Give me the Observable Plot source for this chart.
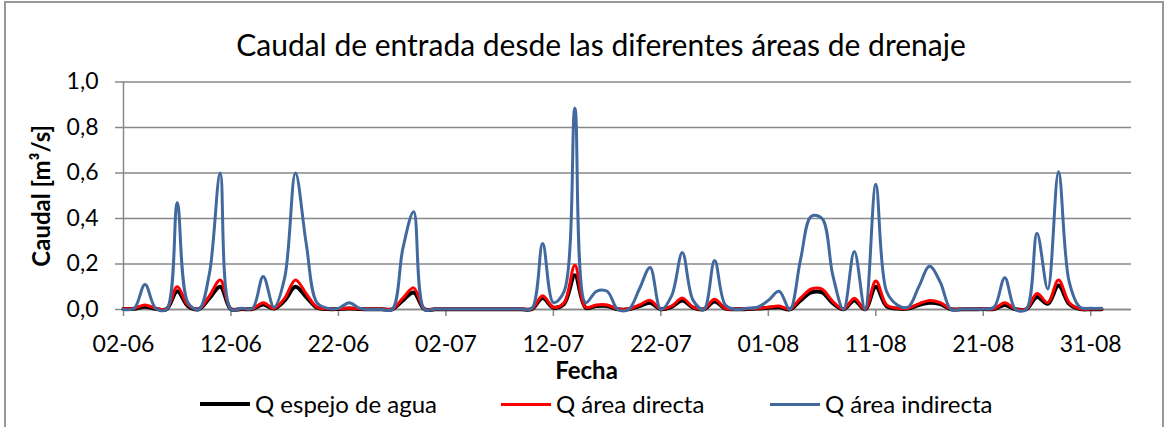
<!DOCTYPE html>
<html>
<head>
<meta charset="utf-8">
<script src="https://cdn.jsdelivr.net/npm/d3@7"></script>
<script src="https://cdn.jsdelivr.net/npm/@observablehq/plot@0.6"></script>
<style>
  html, body { margin: 0; padding: 0; background: #fff; }
  #wrap { position: relative; width: 1169px; height: 427px; overflow: hidden; font-family: Lato, "Open Sans", sans-serif; }
  #border { position: absolute; left: 4px; top: 1px; width: 1160px; height: 440px; border: 2px solid #999; box-sizing: border-box; }
  #title { position: absolute; left: 0; top: 29px; width: 1202px; text-align: center; font-size: 30px; line-height: 30px; color: #000; }
  .leg { position: absolute; top: 392px; height: 24px; display: flex; align-items: center; font-size: 24px; line-height: 24px; color: #000; white-space: nowrap; }
  .sw { display: inline-block; width: 50px; margin-right: 5px; }
  #chart { position: absolute; left: 0; top: 0; }
</style>
</head>
<body>
<div id="wrap">
  <div id="border"></div>
  <div id="chart"></div>
  <div id="title"></div>
</div>
<script>
// ---- data ----
const startDate = "2013-06-02"; // first day of the daily series
const seriesNames = ["Q espejo de agua", "Q área directa", "Q área indirecta"];
const seriesColors = ["#000000", "#ff0000", "#41699d"];
const seriesWidths = [4, 3, 3];

const qEspejo = [0.002, 0.003, 0.012, 0.003, 0.001, 0.08, 0.015, 0.001, 0.05, 0.10,
 0.001, 0.002, 0.002, 0.022, 0.004, 0.04, 0.10, 0.055, 0.008, 0.002,
 0.002, 0.004, 0.002, 0.001, 0.001, 0.001, 0.04, 0.075, 0.001, 0.001,
 0.001, 0.001, 0.001, 0.001, 0.001, 0.001, 0.001, 0.001, 0.002, 0.05,
 0.008, 0.025, 0.15, 0.008, 0.015, 0.015, 0.001, 0.001, 0.015, 0.03,
 0.001, 0.012, 0.04, 0.008, 0.001, 0.035, 0.004, 0.001, 0.002, 0.004,
 0.008, 0.01, 0.001, 0.04, 0.075, 0.075, 0.028, 0.001, 0.04, 0.001,
 0.10, 0.015, 0.004, 0.004, 0.02, 0.03, 0.024, 0.001, 0.001, 0.001,
 0.002, 0.002, 0.02, 0.001, 0.001, 0.055, 0.025, 0.105, 0.024, 0.002,
 0.001, 0.001];

const qDirecta = [0.003, 0.005, 0.02, 0.005, 0.002, 0.10, 0.02, 0.002, 0.06, 0.13,
 0.002, 0.003, 0.003, 0.03, 0.005, 0.05, 0.13, 0.07, 0.01, 0.003,
 0.003, 0.006, 0.003, 0.002, 0.002, 0.002, 0.05, 0.095, 0.002, 0.002,
 0.002, 0.002, 0.002, 0.002, 0.002, 0.002, 0.002, 0.002, 0.003, 0.06,
 0.01, 0.03, 0.195, 0.01, 0.02, 0.02, 0.002, 0.002, 0.02, 0.04,
 0.002, 0.015, 0.05, 0.01, 0.002, 0.045, 0.005, 0.002, 0.003, 0.005,
 0.01, 0.015, 0.002, 0.05, 0.09, 0.09, 0.035, 0.002, 0.05, 0.002,
 0.125, 0.02, 0.005, 0.005, 0.025, 0.04, 0.03, 0.002, 0.002, 0.002,
 0.003, 0.003, 0.03, 0.002, 0.002, 0.07, 0.03, 0.13, 0.03, 0.003,
 0.002, 0.002];

const qIndirecta = [0.0, 0.005, 0.11, 0.005, 0.0, 0.47, 0.03, 0.0, 0.16, 0.60,
 0.0, 0.005, 0.005, 0.145, 0.01, 0.14, 0.60, 0.29, 0.03, 0.005,
 0.005, 0.03, 0.005, 0.0, 0.0, 0.0, 0.27, 0.43, 0.0, 0.002,
 0.002, 0.002, 0.002, 0.002, 0.002, 0.002, 0.002, 0.002, 0.005, 0.29,
 0.03, 0.08, 0.885, 0.03, 0.08, 0.08, 0.0, 0.0, 0.09, 0.185,
 0.0, 0.06, 0.25, 0.04, 0.0, 0.215, 0.02, 0.0, 0.005, 0.01,
 0.04, 0.08, 0.0, 0.22, 0.41, 0.40, 0.15, 0.0, 0.255, 0.0,
 0.55, 0.08, 0.02, 0.01, 0.10, 0.19, 0.12, 0.0, 0.002, 0.002,
 0.002, 0.01, 0.14, 0.0, 0.0, 0.335, 0.09, 0.605, 0.12, 0.01,
 0.005, 0.005];

const xTickLabels = ["02-06", "12-06", "22-06", "02-07", "12-07", "22-07", "01-08", "11-08", "21-08", "31-08"];
const xDomainEnd = "2013-09-03T19:00Z";
const yTicks = [0, 0.2, 0.4, 0.6, 0.8, 1.0];
const chartTitle = "Caudal de entrada desde las diferentes áreas de drenaje";
const yLabel = "Caudal [m³/s]";
const xLabel = "Fecha";

// ---- build ----
const start = new Date(startDate + "T00:00Z");
const dayOf = i => d3.utcDay.offset(start, i);
const allSeries = [qEspejo, qDirecta, qIndirecta];
const rows = [];
allSeries.forEach((arr, s) => arr.forEach((v, i) => rows.push({date: dayOf(i), v, s: seriesNames[s]})));
const xTicks = xTickLabels.map(l => {
  const [dd, mm] = l.split("-").map(Number);
  return new Date(Date.UTC(2013, mm - 1, dd));
});
const tickFmtX = d => xTickLabels[xTicks.findIndex(t => +t === +d)];
const tickFmtY = d => d.toFixed(1).replace(".", ",");
const grid = "#888888";

const lineMarks = seriesNames.map((name, s) =>
  Plot.line(rows.filter(r => r.s === name), {
    x: "date", y: "v", curve: "catmull-rom",
    stroke: seriesColors[s], strokeWidth: seriesWidths[s], strokeLinejoin: "round"
  })
);

const plot = Plot.plot({
  width: 1169, height: 427,
  marginTop: 81.5, marginBottom: 118, marginLeft: 123, marginRight: 38,
  style: {fontFamily: "Lato, 'Open Sans', sans-serif", background: "transparent", color: "#000", overflow: "visible"},
  x: {type: "utc", domain: [start, new Date(xDomainEnd)], label: null},
  y: {domain: [0, 1], label: null},
  marks: [
    Plot.gridY(yTicks, {stroke: grid, strokeOpacity: 1, strokeWidth: 1.5}),
    Plot.axisY(yTicks, {tickSize: 8, tickPadding: 17, tickFormat: tickFmtY, fontSize: 23, stroke: grid, strokeWidth: 1.5, label: null}),
    Plot.ruleX([start], {stroke: grid, strokeWidth: 1.5}),
    Plot.ruleY([0], {stroke: grid, strokeWidth: 1.5}),
    Plot.axisX(xTicks, {tickSize: 7, tickPadding: 19, tickFormat: tickFmtX, fontSize: 23, stroke: grid, strokeWidth: 1.5, label: null}),
    ...lineMarks,
    Plot.text([yLabel], {frameAnchor: "left", textAnchor: "middle", dx: -81, rotate: -90, fontWeight: "bold", fontSize: 24, fill: "#000"}),
    Plot.text([xLabel], {frameAnchor: "bottom", dx: -41, dy: 69, fontWeight: "bold", fontSize: 24, fill: "#000"})
  ]
});
document.getElementById("chart").appendChild(plot);
document.getElementById("title").textContent = chartTitle;

const legLefts = [200, 501, 770];
const wrap = document.getElementById("wrap");
seriesNames.forEach((name, s) => {
  const item = document.createElement("div");
  item.className = "leg";
  item.style.left = legLefts[s] + "px";
  const sw = document.createElement("span");
  sw.className = "sw";
  sw.style.height = seriesWidths[s] + "px";
  sw.style.background = seriesColors[s];
  const tx = document.createElement("span");
  tx.textContent = name;
  item.appendChild(sw);
  item.appendChild(tx);
  wrap.appendChild(item);
});
</script>
</body>
</html>
